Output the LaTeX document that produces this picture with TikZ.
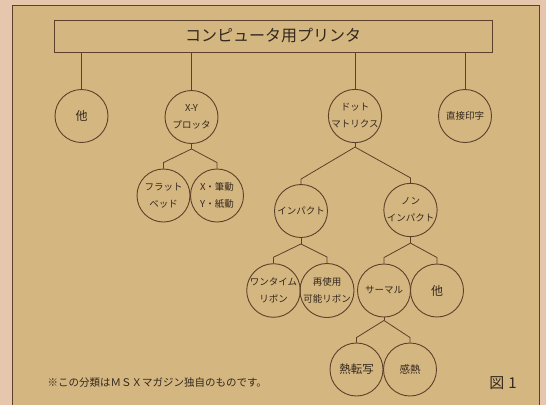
\documentclass[tikz,border=0pt]{standalone}
\usepackage{fontspec}
\newfontfamily\jp{Noto Sans CJK JP}

\definecolor{paper}{RGB}{212,182,128}
\definecolor{margin}{RGB}{230,198,172}
\definecolor{ink}{RGB}{92,64,42}
\definecolor{txt}{RGB}{52,40,30}

\begin{document}
\begin{tikzpicture}[x=1pt, y=-1pt,
    every node/.style={font=\jp\fontsize{9.5}{17}\selectfont, text=txt, align=center},
    kind/.style={circle, draw=ink, line width=0.9pt, minimum size=53pt, inner sep=0pt},
    link/.style={draw=ink, line width=0.8pt}]
    % paper and frame
    \fill[margin] (0,0) rectangle (546,405);
    \useasboundingbox (0,0) rectangle (546,405);
    \fill[paper] (12.5,5) rectangle (539.5,405);
    \draw[ink, line width=1pt] (12.5,405) -- (12.5,5) -- (539.5,5) -- (539.5,405);

    \node[draw=ink, line width=0.9pt, minimum width=438pt, minimum height=32pt,
          font=\jp\fontsize{16}{18}\selectfont] (top) at (273,36) {コンピュータ用プリンタ};

    % first row
    \node[kind, font=\jp\fontsize{12}{14}\selectfont] (other) at (81.5,116) {他};
    \node[kind] (xy) at (191.5,117) {X-Y\\プロッタ};
    \node[kind] (dot) at (355,116) {ドット\\マトリクス};
    \node[kind] (direct) at (465,116) {直接印字};
    \foreach \n in {other, xy, dot, direct}
        \draw[link] (\n.north |- top.south) -- (\n.north);

    % x-y plotters
    \node[kind] (flat) at (163.5,195.5) {フラット\\ベッド};
    \node[kind] (xmove) at (217,195.5) {X・筆動\\Y・紙動};
    \draw[link] (xy.south) -- ++(0,5) coordinate (xyj);
    \draw[link] (xyj) -- ([yshift=6pt]flat.north) -- (flat.north);
    \draw[link] (xyj) -- ([yshift=6pt]xmove.north) -- (xmove.north);

    % dot matrix
    \node[kind] (imp) at (301,211) {インパクト};
    \node[kind] (nonimp) at (410.5,210) {ノン\\インパクト};
    \draw[link] (dot.south) -- ++(0,4) coordinate (dotj);
    \draw[link] (dotj) -- ([yshift=5pt]imp.north) -- (imp.north);
    \draw[link] (dotj) -- ([yshift=5pt]nonimp.north) -- (nonimp.north);

    \node[kind] (once) at (273.5,290.5) {ワンタイム\\リボン};
    \node[kind] (reuse) at (327,290.5) {再使用\\可能リボン};
    \draw[link] (imp.south) -- ++(0,6) coordinate (impj);
    \draw[link] (impj) -- ([yshift=6pt]once.north) -- (once.north);
    \draw[link] (impj) -- ([yshift=6pt]reuse.north) -- (reuse.north);

    \node[kind] (therm) at (384,290.5) {サーマル};
    \node[kind, font=\jp\fontsize{12}{14}\selectfont] (rest) at (437,290.5) {他};
    \draw[link] (nonimp.south) -- ++(0,6) coordinate (nonj);
    \draw[link] (nonj) -- ([yshift=6pt]therm.north) -- (therm.north);
    \draw[link] (nonj) -- ([yshift=6pt]rest.north) -- (rest.north);

    % thermal
    \node[kind, font=\jp\fontsize{11.5}{13}\selectfont] (transfer) at (356.5,369.5) {熱転写};
    \node[kind, font=\jp\fontsize{10.5}{12}\selectfont] (sense) at (410,369.5) {感熱};
    \draw[link] (therm.south) -- ++(0,3) coordinate (thj);
    \draw[link] (thj) -- ([yshift=5pt]transfer.north) -- (transfer.north);
    \draw[link] (thj) -- ([yshift=5pt]sense.north) -- (sense.north);

    \node[anchor=west, font=\jp\fontsize{10.5}{12}\selectfont] (note) at (44,383)
        {※この分類はＭＳＸマガジン独自のものです。};
    \node[font=\jp\fontsize{15}{17}\selectfont] (fig) at (503,383) {図\hspace{4pt}1};
\end{tikzpicture}
\end{document}
